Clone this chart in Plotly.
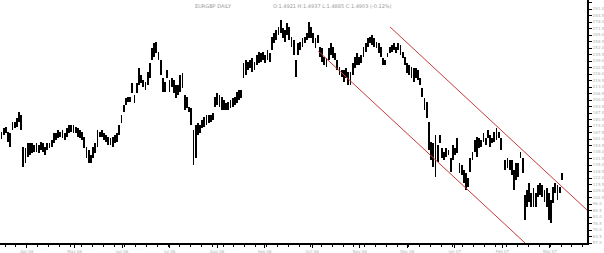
import numpy as np
import plotly.graph_objects as go

# Daily high / low values (one entry per trading session, None = no session)
highs = [168,172,173,168,167,178,178,182,188,185,
         153,152,157,157,157,155,157,155,158,157,
         153,157,157,160,167,167,170,168,170,167,
         172,175,175,175,173,172,170,168,163,153,
         150,145,153,157,170,168,170,167,165,163,
         162,163,165,167,175,185,195,202,203,203,
         217,205,217,232,225,220,218,228,237,252,
         257,258,248,240,222,218,230,220,222,220,
         215,215,225,227,205,203,193,192,170,175,
         177,175,180,183,185,185,185,187,203,207,
         205,203,200,197,198,200,202,203,208,210,
         210,237,240,238,240,242,238,245,248,247,
         248,245,250,247,263,267,270,273,280,272,
         270,277,273,263,260,240,257,258,262,263,
         267,278,273,267,262,265,253,252,243,242,
         252,257,253,247,240,233,230,230,232,228,
         228,237,243,247,243,245,253,257,262,263,
         265,262,258,257,253,242,240,247,253,255,
         257,253,257,255,248,243,237,235,233,232,
         232,230,222,212,202,198,178,158,157,165,
         155,165,152,148,152,150,142,155,152,162,
         137,135,130,127,122,142,148,160,163,162,
         160,167,162,170,165,162,168,172,168,162,
         None,
         140,142,140,140,130,137,137,148,142,105,
         110,117,107,112,107,115,117,115,110,112,
         107,100,113,117,115,113,127]

lows = [161,165,167,158,153,170,172,173,178,170,
        133,137,143,145,147,148,148,147,150,148,
        145,150,152,153,157,160,162,163,162,160,
        163,167,168,167,167,163,162,160,152,142,
        137,137,142,147,153,163,163,160,158,155,
        155,153,157,158,165,177,188,195,198,198,
        207,197,207,215,217,213,210,215,222,240,
        243,247,240,225,208,208,222,208,213,207,
        202,205,208,212,190,192,188,175,135,142,
        165,167,172,173,175,177,178,180,193,195,
        193,190,190,190,190,192,193,195,197,200,
        202,222,225,230,232,228,230,235,237,238,
        240,237,240,238,250,257,260,265,267,262,
        258,265,260,253,245,223,245,250,253,257,
        260,262,262,257,252,257,243,238,235,233,
        240,245,242,240,230,225,223,218,222,215,
        215,225,232,235,235,237,243,248,253,257,
        255,253,252,247,243,235,235,243,247,248,
        250,247,250,245,242,235,227,225,222,218,
        222,220,215,203,190,182,150,140,133,123,
        138,157,142,140,143,145,128,140,145,147,
        127,125,117,110,113,128,140,148,143,152,
        153,158,155,162,153,157,158,160,162,150,
        None,
        130,132,130,125,110,120,123,142,127,80,
        93,98,93,93,93,103,105,103,98,93,
        80,77,97,107,100,107,120]

# Trend channel (session index, value)
channel_upper_idx = [178.2, 268.5]
channel_upper_val = [273, 90]
channel_lower_idx = [145.2, 240.1]
channel_lower_val = [249, 57]

# Month tick positions (session index) and labels
month_idx = [11.6, 33.5, 55.3, 77.1, 98.9, 120.7, 142.5, 164.3, 186.1, 207.9, 229.7, 251.5]
month_labels = ["Apr 06", "May 06", "Jun 06", "Jul 06", "Aug 06", "Sep 06",
                "Oct 06", "Nov 06", "Dec 06", "Jan 07", "Feb 07", "Mar 07"]

title_left = "EURGBP DAILY"
title_right = "O:1.4921 H:1.4937 L:1.4885 C:1.4903 (-0.12%)"

h = np.array([np.nan if v is None else v for v in highs], dtype=float)
l = np.array([np.nan if v is None else v for v in lows], dtype=float)
idx = np.arange(len(h))

fig = go.Figure()
fig.add_trace(go.Bar(
    x=idx, y=h - l, base=l, width=0.38,
    marker=dict(color="black", line=dict(width=0)),
    showlegend=False, hoverinfo="skip"))
for xs, ys in [(channel_upper_idx, channel_upper_val), (channel_lower_idx, channel_lower_val)]:
    fig.add_trace(go.Scatter(x=xs, y=ys, mode="lines",
                             line=dict(color="#c83a3a", width=1),
                             showlegend=False, hoverinfo="skip"))

fig.update_layout(
    width=604, height=253,
    margin=dict(l=0, r=17, t=0, b=10),
    paper_bgcolor="white", plot_bgcolor="white",
    bargap=0,
    xaxis=dict(range=[-0.7, 268.5], showgrid=False, zeroline=False,
               showline=True, linecolor="black", linewidth=2,
               tickvals=month_idx, ticktext=month_labels,
               ticks="outside", ticklen=3, tickcolor="black", tickwidth=1,
               tickfont=dict(size=4, color="#b0b0b0", family="DejaVu Sans"),
               minor=dict(dtick=5, tick0=1.6, ticks="outside", ticklen=2,
                          tickcolor="black"),
               automargin=False, fixedrange=True),
    yaxis=dict(range=[57, 300], side="right", showgrid=False, zeroline=False,
               showline=True, linecolor="black", linewidth=2,
               tick0=57, dtick=6.5, ticks="outside", ticklen=3,
               tickcolor="black", tickwidth=1, tickformat=".1f",
               tickfont=dict(size=4, color="#b0b0b0", family="DejaVu Sans"),
               automargin=False, fixedrange=True),
    annotations=[
        dict(text=title_left, xref="paper", yref="paper", x=0.328, y=0.995,
             xanchor="left", yanchor="top", showarrow=False,
             font=dict(size=5, color="#9a9a9a", family="DejaVu Sans")),
        dict(text=title_right, xref="paper", yref="paper", x=0.462, y=0.995,
             xanchor="left", yanchor="top", showarrow=False,
             font=dict(size=5, color="#9a9a9a", family="DejaVu Sans")),
    ],
)

fig.write_html("out.html")
